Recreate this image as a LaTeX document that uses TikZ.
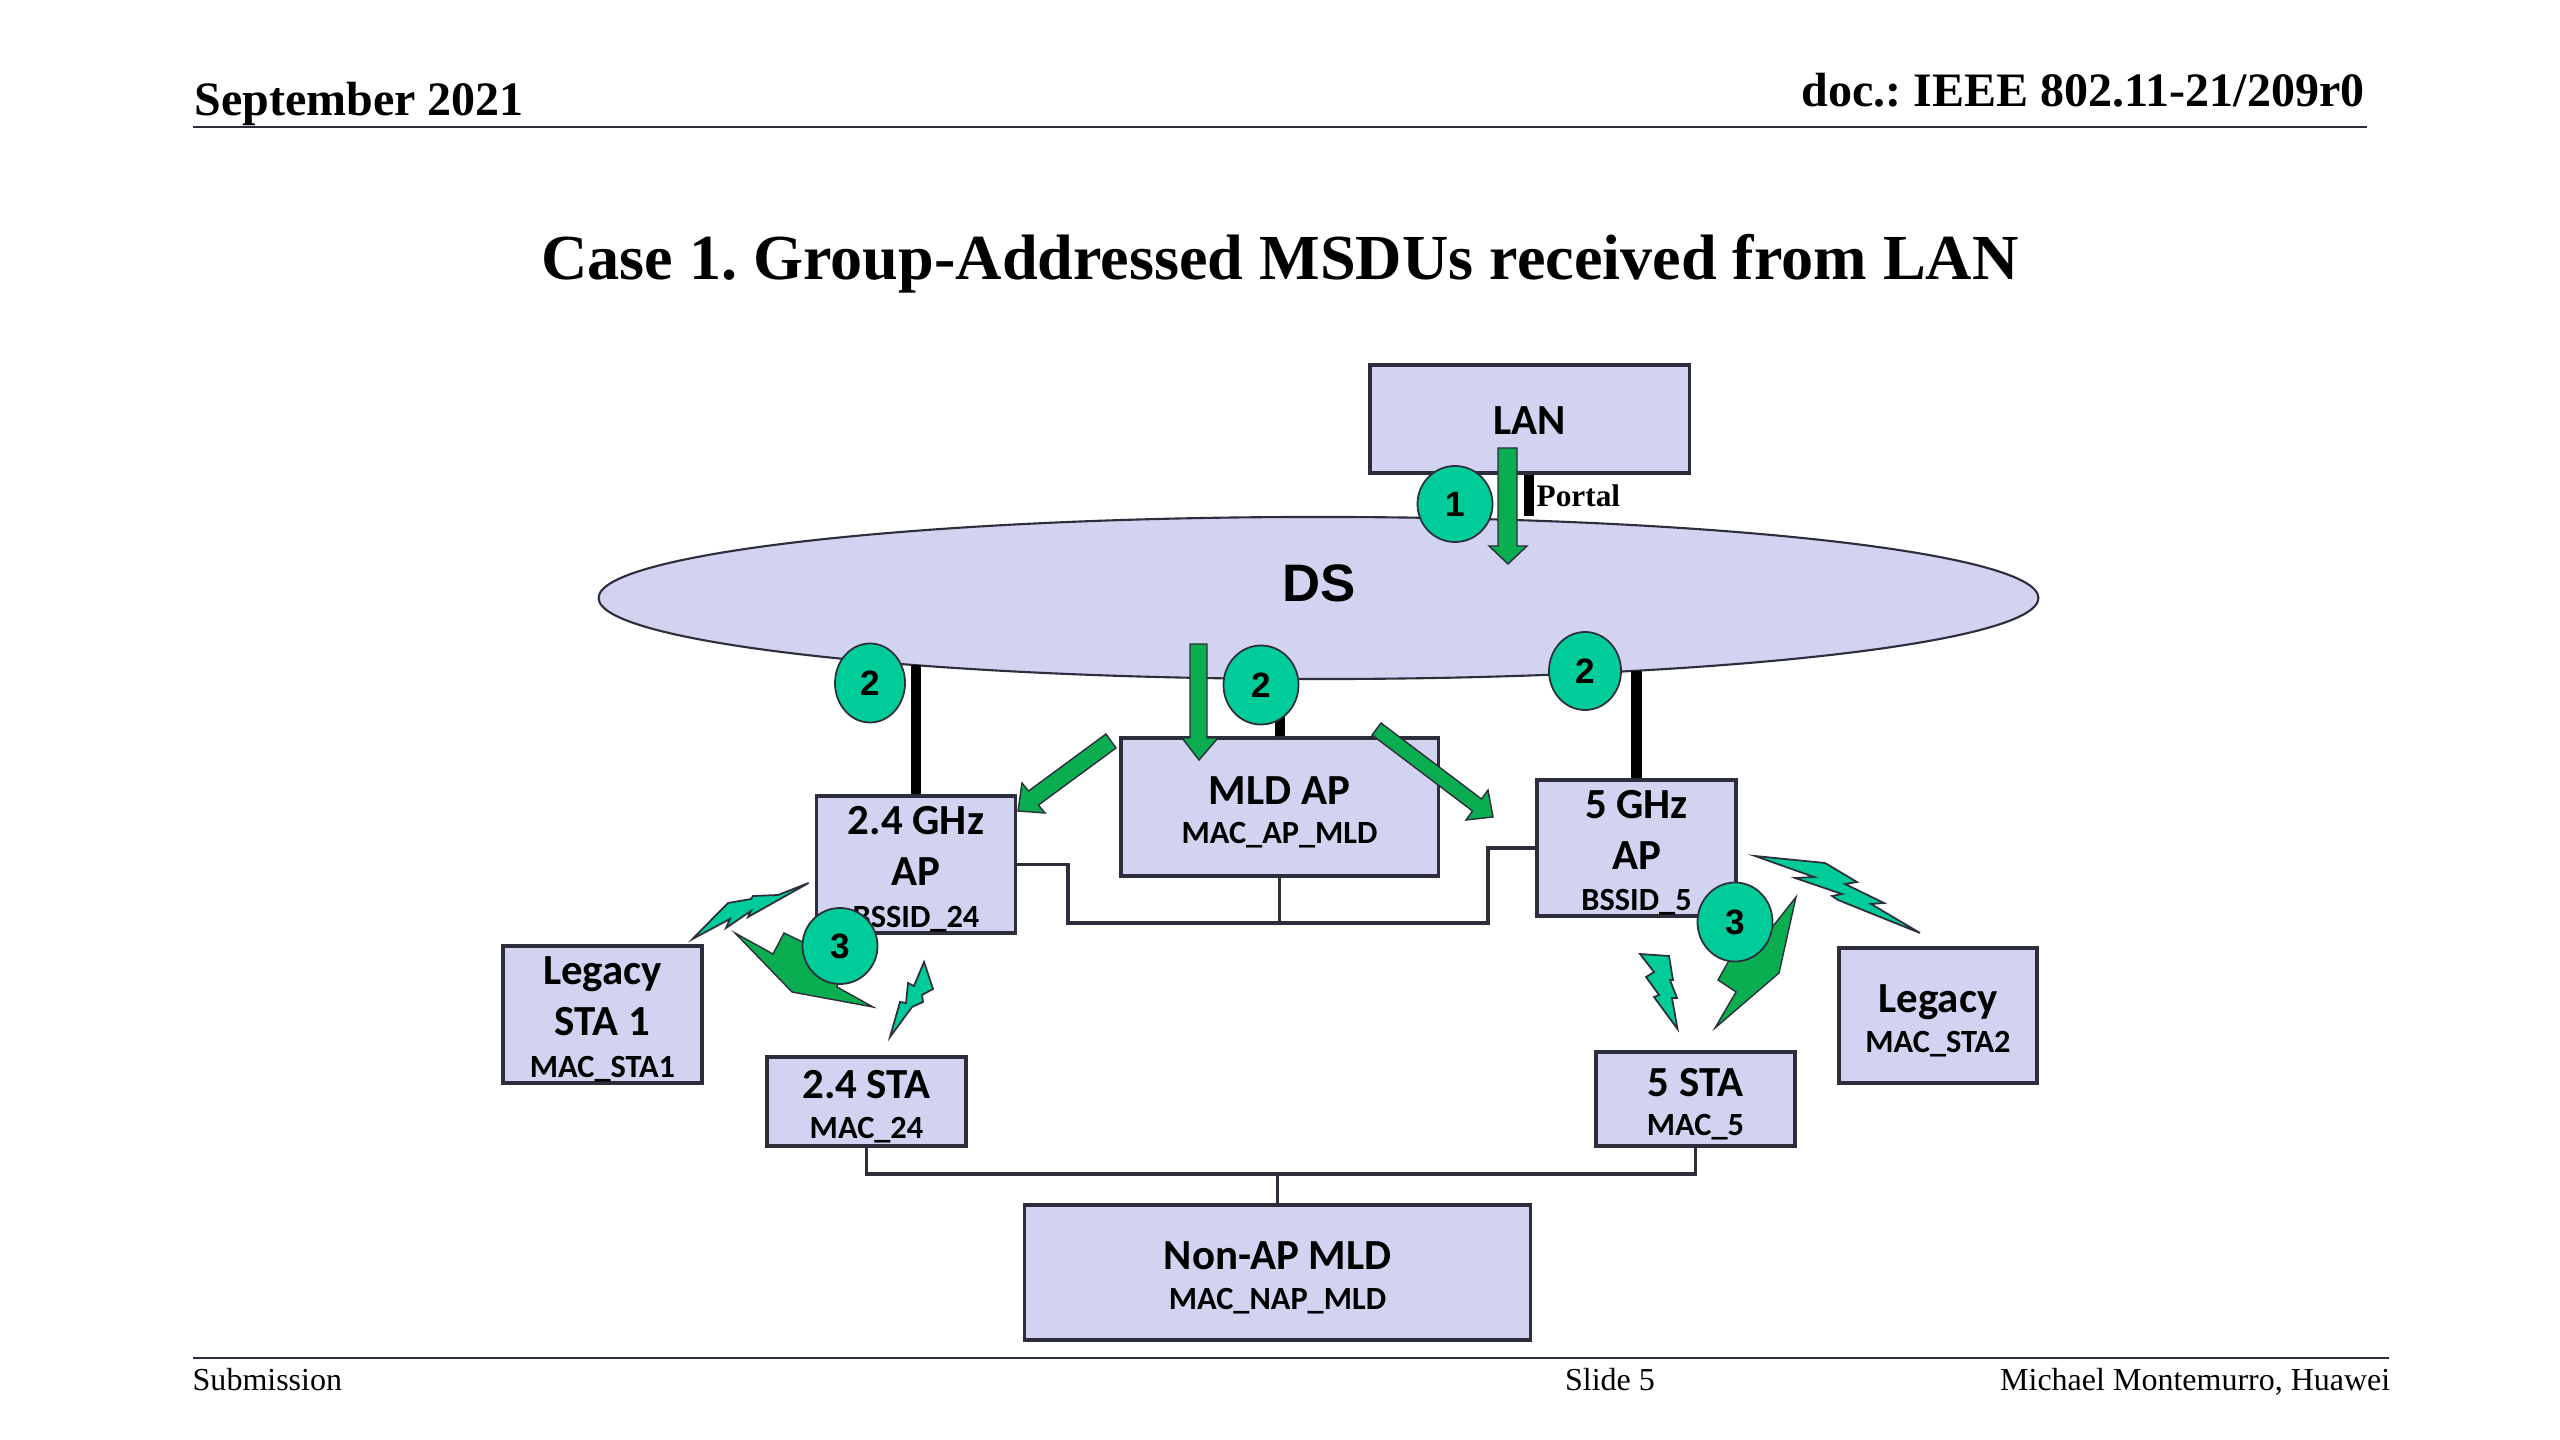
\documentclass[tikz,border=0pt]{standalone}
\usepackage{fontspec}
\setmainfont{Liberation Serif}
\newfontfamily\boxfont{Carlito}
\newfontfamily\markfont{Liberation Sans}
\usetikzlibrary{shapes.geometric}
\frenchspacing

\definecolor{boxfill}{RGB}{210,210,241}
\definecolor{boxline}{RGB}{45,45,60}
\definecolor{markgreen}{RGB}{0,204,153}
\definecolor{flowgreen}{RGB}{10,174,80}

\newcommand{\bigline}{\fontsize{12.2}{14.6}\selectfont\bfseries}
\newcommand{\subline}{\fontsize{9.2}{12.4}\selectfont\bfseries}
% first line of a box, with some room above it
\newcommand{\topline}[2]{\bigline\rule{0pt}{#1}#2}

\tikzset{
  netbox/.style={draw=boxline,fill=boxfill,line width=0.9pt,inner sep=0pt,align=center,font=\boxfont},
  marker/.style={draw=boxline,fill=markgreen,ellipse,line width=0.5pt,inner sep=0pt,font=\markfont\fontsize{10}{12}\selectfont\bfseries},
  link/.style={draw=boxline,line width=0.9pt},
  pole/.style={black,line width=2.9pt},
  flow/.style={draw=boxline,fill=flowgreen,line width=0.4pt},
  bolt/.style={draw=boxline,fill=markgreen,line width=0.5pt},
  bighead/.style={font=\fontsize{13.65}{16}\selectfont\bfseries,inner sep=0pt},
  foot/.style={font=\fontsize{9.1}{11}\selectfont,inner sep=0pt}
}

\begin{document}
\begin{tikzpicture}[x=0.01cm,y=-0.01cm]
\useasboundingbox (0,0) rectangle (2560,1440);

% slide header and footer
\node [bighead,anchor=base west] (date) at (194,116) {September 2021};
\node [bighead,anchor=base east] (doc) at (2365,107) {doc.: IEEE 802.11-21/209r0};
\draw [boxline,line width=0.8pt] (193,127)--(2367,127);
\node [anchor=base,inner sep=0pt,font=\fontsize{18.26}{22}\selectfont\bfseries] (title) at (1280,279.5) {Case 1. Group-Addressed MSDUs received from LAN};
\draw [boxline,line width=0.8pt] (193,1358)--(2389,1358);
\node [foot,anchor=base west] (subm) at (192,1390.5) {Submission};
\node [foot,anchor=base] (slide) at (1610,1390.5) {Slide 5};
\node [foot,anchor=base east] (auth) at (2391,1390.5) {Michael Montemurro, Huawei};

% network boxes
\node [netbox,minimum width=3.19cm,minimum height=1.08cm] (lan) at (1529.5,419) {\topline{8.7pt}{LAN}};
\node [draw=boxline,fill=boxfill,ellipse,line width=0.6pt,minimum width=14.39cm,minimum height=1.62cm,inner sep=0pt] (ds) at (1318.5,598) {};
\node [font=\markfont\fontsize{15}{18}\selectfont\bfseries,inner sep=0pt] (dslabel) at (1319,583) {DS};
\node [netbox,minimum width=1.99cm,minimum height=1.37cm] (ap24) at (916,864.5) {\topline{10.6pt}{2.4 GHz}\\[2.5pt]\bigline AP\\[-0.2pt]\subline BSSID\_24};
\node [netbox,minimum width=3.17cm,minimum height=1.38cm] (mldap) at (1279.5,807) {\topline{11pt}{MLD AP}\\[-0.8pt]\subline MAC\_AP\_MLD};
\node [netbox,minimum width=1.99cm,minimum height=1.36cm] (ap5) at (1636.5,848) {\topline{10.6pt}{5 GHz}\\[2.5pt]\bigline AP\\[-0.2pt]\subline BSSID\_5};
\node [netbox,minimum width=1.99cm,minimum height=1.37cm] (sta1) at (602.5,1014.5) {\topline{10.6pt}{Legacy}\\[2.5pt]\bigline STA 1\\[-0.2pt]\subline MAC\_STA1};
\node [netbox,minimum width=1.99cm,minimum height=0.89cm] (sta24) at (866.5,1101.5) {\topline{11pt}{2.4 STA}\\[-0.8pt]\subline MAC\_24};
\node [netbox,minimum width=1.99cm,minimum height=0.94cm] (sta5) at (1695.5,1099) {\topline{11pt}{5 STA}\\[-0.8pt]\subline MAC\_5};
\node [netbox,minimum width=1.98cm,minimum height=1.35cm] (sta2) at (1938,1015.5) {\topline{11pt}{Legacy}\\[-0.8pt]\subline MAC\_STA2};
\node [netbox,minimum width=5.05cm,minimum height=1.35cm] (nonap) at (1277.5,1272.5) {\topline{11pt}{Non-AP MLD}\\[-0.8pt]\subline MAC\_NAP\_MLD};

% thick lines to the DS
\coordinate (portal) at (1529,516);
\coordinate (ds24) at (916,665);
\coordinate (dsmld) at (1280,679);
\coordinate (ds5) at (1636.5,671);
\draw [pole] (lan.south -| portal)--(portal);
\draw [pole] (ap24.north)--(ds24);
\draw [pole] (mldap.north -| dsmld)--(dsmld);
\draw [pole] (ap5.north)--(ds5);
\node [anchor=base west,inner sep=0pt,font=\fontsize{8.9}{11}\selectfont\bfseries] (portaltext) at (1536,507) {Portal};

% thin links between boxes
\coordinate (busl) at (1068,923);
\coordinate (busr) at (1488,923);
\coordinate (stal) at (866.5,1174);
\coordinate (star) at (1695.5,1174);
\draw [link] (ap24.east)--(ap24.east -| busl)--(busl)--(busr)--(busr |- ap5.west)--(ap5.west);
\draw [link] (mldap.south)--(mldap.south |- busl);
\draw [link] (sta24.south)--(stal)--(star)--(sta5.south);
\draw [link] (nonap.north)--(nonap.north |- stal);

% flow arrows
\draw [flow] (1498,448)--(1517,448)--(1517,546)--(1527,546)--(1508,564)--(1489,546)--(1498,546)--cycle;
\draw [flow] (1190,644)--(1207,644)--(1207,738)--(1218,738)--(1199,760)--(1182,738)--(1190,738)--cycle;
\draw [flow] (1106,734)--(1116,748)--(1038.5,805)--(1045,813)--(1018,811)--(1022,783)--(1028.5,791)--cycle;
\draw [flow] (1381,723)--(1372,735)--(1472.5,811)--(1466,820)--(1493,817)--(1488,790)--(1481.5,799)--cycle;

% radio bolts
\draw [bolt] (808.6,883)--(778,895)--(753,896)--(751,899)--(728,903)--(692.5,939)--(730,919)--(726,928)--(751,911)--(748,917)--cycle;
\draw [bolt] (924,962)--(933,989)--(922,995)--(923,1002)--(912,1007)--(890,1037)--(900,1002)--(906,1003)--(908,983)--(914,986)--cycle;
\draw [bolt] (1755,856)--(1825,863)--(1857,882)--(1845,884)--(1884,903)--(1871,904)--(1920,933)--(1838,900)--(1832,896)--(1842,894)--(1795,878)--(1814,877)--cycle;
\draw [bolt] (1640,954)--(1669,956)--(1673,980)--(1670,980)--(1677,998)--(1672,998)--(1677.5,1029)--(1654,997)--(1659,995)--(1646,977)--(1654,972)--cycle;
\draw [flow] (735,933)--(773,954)--(784,933)--(840,960)--(837,987)--(873,1007)--(792,992)--cycle;
\draw [flow] (1796,897)--(1779,973)--(1715,1028)--(1736,992)--(1718,980)--(1735,950)--(1770,930)--cycle;

% step numbers
\node [marker,minimum width=0.75cm,minimum height=0.76cm] (one) at (1455,504) {1};
\node [marker,minimum width=0.70cm,minimum height=0.79cm] (twol) at (870,683) {2};
\node [marker,minimum width=0.75cm,minimum height=0.79cm] (twom) at (1261,685) {2};
\node [marker,minimum width=0.72cm,minimum height=0.78cm] (twor) at (1585,671) {2};
\node [marker,minimum width=0.75cm,minimum height=0.76cm] (threel) at (840,946) {3};
\node [marker,minimum width=0.75cm,minimum height=0.79cm] (threer) at (1735,922) {3};
\end{tikzpicture}
\end{document}
